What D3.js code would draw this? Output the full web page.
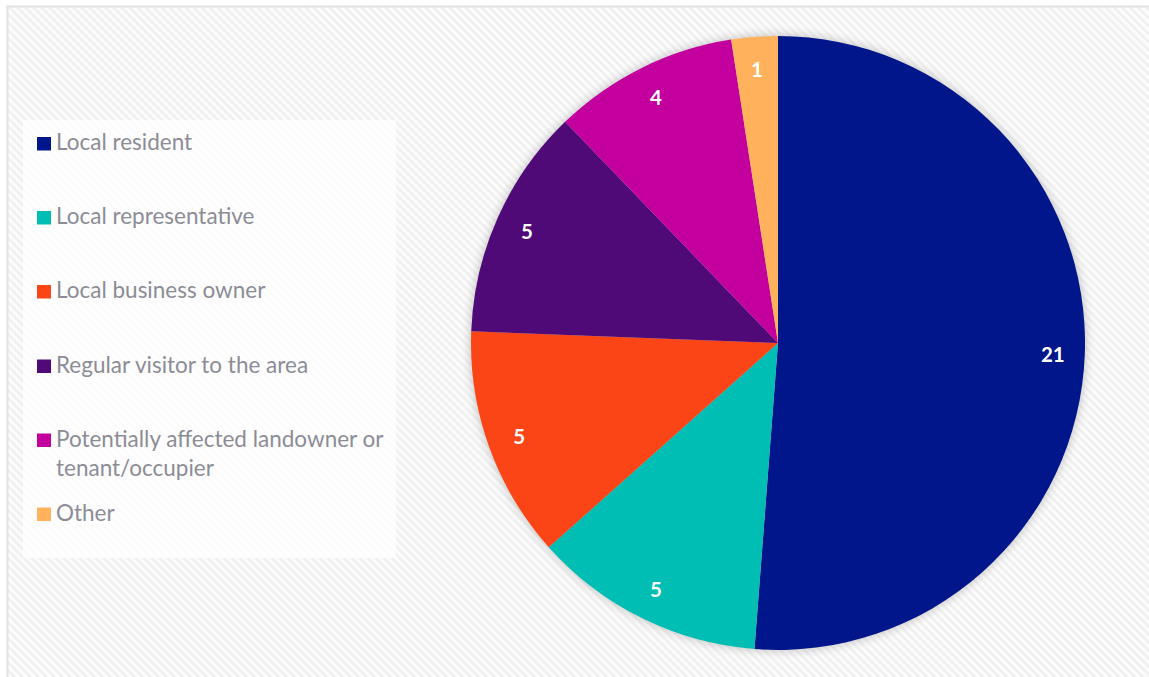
<!DOCTYPE html>
<html>
<head>
<meta charset="utf-8">
<script src="https://cdn.jsdelivr.net/npm/d3@7"></script>
<style>
  html, body { margin: 0; padding: 0; background: #ffffff; }
  svg { display: block; }
</style>
</head>
<body>
<svg id="chart" width="1149" height="677"></svg>
<script>
// Respondent types and counts, clockwise from 12 o'clock
const categories = [
  "Local resident",
  "Local representative",
  "Local business owner",
  "Regular visitor to the area",
  "Potentially affected landowner or tenant/occupier",
  "Other"
];
const counts = [21, 5, 5, 5, 4, 1];
const sliceColors = ["#00168A", "#00BEB3", "#FC4516", "#500A78", "#C3009E", "#FFB15C"];
// Legend labels split into display lines
const legendLines = [
  ["Local resident"],
  ["Local representative"],
  ["Local business owner"],
  ["Regular visitor to the area"],
  ["Potentially affected landowner or", "tenant/occupier"],
  ["Other"]
];

const svg = d3.select("#chart");
const W = 1149, H = 677;

const defs = svg.append("defs");

// Diagonal hatch fill for the chart area
const pat = defs.append("pattern")
  .attr("id", "hatch")
  .attr("patternUnits", "userSpaceOnUse")
  .attr("width", 5.66).attr("height", 5.66)
  .attr("patternTransform", "rotate(-45)");
pat.append("rect").attr("width", 5.66).attr("height", 5.66).attr("fill", "#fcfcfc");
pat.append("rect").attr("width", 2.6).attr("height", 5.66).attr("fill", "#f0f0f0");

// Soft glow under the pie
const blur = defs.append("filter")
  .attr("id", "pieShadow")
  .attr("x", "-20%").attr("y", "-20%").attr("width", "140%").attr("height", "140%");
blur.append("feGaussianBlur").attr("stdDeviation", 5);

// Chart frame
svg.append("rect")
  .attr("x", 7.5).attr("y", 6.5)
  .attr("width", W).attr("height", H)
  .attr("fill", "url(#hatch)")
  .attr("stroke", "#e2e2e2")
  .attr("stroke-width", 2);

// Legend panel
const legendBox = { x: 23, y: 120, w: 373, h: 438 };
svg.append("rect")
  .attr("x", legendBox.x).attr("y", legendBox.y)
  .attr("width", legendBox.w).attr("height", legendBox.h)
  .attr("fill", "rgba(255,255,255,0.75)");

// Pie
const cx = 778, cy = 343, radius = 307;
const pieGen = d3.pie().sort(null).value(d => d.value);
const data = categories.map((c, i) => ({ name: c, value: counts[i], color: sliceColors[i] }));
const arcs = pieGen(data);
const arcGen = d3.arc().innerRadius(0).outerRadius(radius);
const labelArc = d3.arc().innerRadius(275).outerRadius(275);

const pieG = svg.append("g").attr("transform", `translate(${cx},${cy})`);

pieG.append("circle")
  .attr("r", radius + 1)
  .attr("fill", "#9a9a9a")
  .attr("opacity", 0.55)
  .attr("filter", "url(#pieShadow)");

pieG.selectAll("path.slice")
  .data(arcs)
  .join("path")
  .attr("class", "slice")
  .attr("d", arcGen)
  .attr("fill", d => d.data.color);

pieG.selectAll("text.value")
  .data(arcs)
  .join("text")
  .attr("class", "value")
  .attr("transform", d => `translate(${labelArc.centroid(d)})`)
  .attr("text-anchor", "middle")
  .attr("dominant-baseline", "central")
  .attr("font-family", "Lato, 'Open Sans', sans-serif")
  .attr("font-weight", "bold")
  .attr("font-size", 20.5)
  .attr("fill", "#ffffff")
  .text(d => d.data.value);

// Legend entries
const baselines = [150, 224, 298, 372.5, 446.5, 520.5];
const lineStep = 29;
const legendG = svg.append("g");
categories.forEach((c, i) => {
  const g = legendG.append("g");
  g.append("rect")
    .attr("x", 37).attr("y", baselines[i] - 13)
    .attr("width", 14).attr("height", 13.5)
    .attr("fill", sliceColors[i]);
  const t = g.append("text")
    .attr("x", 56).attr("y", baselines[i])
    .attr("font-family", "Lato, 'Open Sans', sans-serif")
    .attr("font-size", 22.5)
    .attr("fill", "#8c8c96");
  legendLines[i].forEach((line, j) => {
    t.append("tspan")
      .attr("x", 56)
      .attr("y", baselines[i] + j * lineStep)
      .text(line);
  });
});
</script>
</body>
</html>
